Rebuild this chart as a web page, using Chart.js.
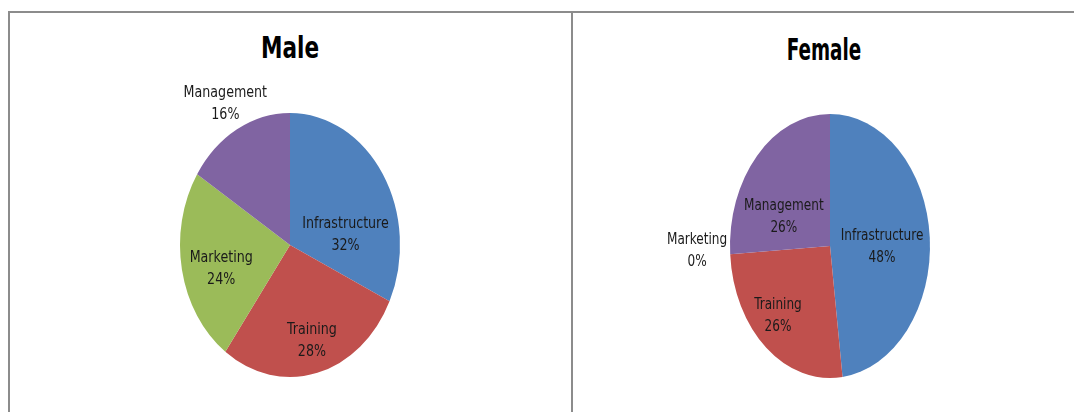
<!DOCTYPE html>
<html>
<head>
<meta charset="utf-8">
<title>Male / Female</title>
<script src="https://cdn.jsdelivr.net/npm/chart.js@4.4.1/dist/chart.umd.min.js"></script>
<style>
  body {
    margin: 0;
    background: #fff;
    width: 1074px;
    height: 412px;
    overflow: hidden;
    position: relative;
    font-family: 'Liberation Sans Narrow', 'DejaVu Sans Condensed', sans-serif;
  }
  .line { position: absolute; background: #8c8c8c; }
  .title {
    position: absolute;
    width: 240px;
    text-align: center;
    font-weight: bold;
    font-size: 30px;
    line-height: 30px;
    color: #000;
  }
  .box { position: absolute; top: 14px; height: 398px; }
  .box canvas { display: block; }
</style>
</head>
<body>
<div class="line" style="left:9px;top:11px;width:1065px;height:2px"></div>
<div class="line" style="left:8px;top:11px;width:2px;height:401px"></div>
<div class="line" style="left:571px;top:11px;width:2px;height:401px"></div>

<div class="title" style="left:170px;top:33px;transform:scaleX(0.8)">Male</div>
<div class="title" style="left:704px;top:35px;transform:scaleX(0.68)">Female</div>

<div class="box" style="left:11px;width:560px"><canvas id="maleChart" width="560" height="398"></canvas></div>
<div class="box" style="left:574px;width:500px"><canvas id="femaleChart" width="500" height="398"></canvas></div>

<script>
// Data
const categories = ['Infrastructure', 'Training', 'Marketing', 'Management'];
const maleValues = [32, 28, 24, 16];
const femaleValues = [48, 26, 0, 26];
const sliceColors = ['#4F81BD', '#C0504D', '#9BBB59', '#8064A2'];

const labelFont = '16px "Liberation Sans Narrow", "DejaVu Sans Condensed", sans-serif';

// Stretches the pie vertically (Excel-style oval) and writes the data labels
const ovalPie = {
    id: 'ovalPie',
    beforeDatasetsDraw(chart, args, opts) {
        const arc = chart.getDatasetMeta(0).data[0];
        const ctx = chart.ctx;
        ctx.save();
        ctx.translate(arc.x, arc.y);
        ctx.scale(1, opts.stretch);
        ctx.translate(-arc.x, -arc.y);
    },
    afterDatasetsDraw(chart, args, opts) {
        const ctx = chart.ctx;
        ctx.restore();

        const meta = chart.getDatasetMeta(0);
        const values = chart.data.datasets[0].data;
        const total = values.reduce((a, b) => a + b, 0);

        meta.data.forEach((arc, i) => {
            // [radius fraction, angle shift in degrees] per slice
            const [frac, shift] = opts.labelPos[i];
            const mid = (arc.startAngle + arc.endAngle) / 2 + shift * Math.PI / 180;
            const r = arc.outerRadius * frac;
            const x = arc.x + Math.cos(mid) * r;
            const y = arc.y + Math.sin(mid) * r * opts.stretch;

            ctx.save();
            ctx.translate(x, y);
            ctx.scale(opts.condense, 1); // narrow font look
            ctx.font = labelFont;
            ctx.fillStyle = '#1a1a1a';
            ctx.textAlign = 'center';
            ctx.textBaseline = 'middle';
            ctx.fillText(chart.data.labels[i], 0, -11);
            ctx.fillText(Math.round(values[i] / total * 100) + '%', 0, 11);
            ctx.restore();
        });
    }
};

function makePie(id, values, padding, stretch, labelPos, condense) {
    return new Chart(document.getElementById(id), {
        type: 'pie',
        data: {
            labels: categories,
            datasets: [{
                data: values,
                backgroundColor: sliceColors,
                borderWidth: 0,
                hoverOffset: 0,
                clip: false
            }]
        },
        options: {
            responsive: false,
            animation: false,
            events: [],
            layout: { padding: padding },
            plugins: {
                legend: { display: false },
                tooltip: { enabled: false },
                ovalPie: { stretch: stretch, labelPos: labelPos, condense: condense }
            }
        },
        plugins: [ovalPie]
    });
}

makePie('maleChart', maleValues,
    { top: 121, bottom: 57, left: 0, right: 2 }, 1.2,
    [[0.51, 24], [0.75, -1], [0.65, -5], [1.22, 0]], 0.88);

makePie('femaleChart', femaleValues,
    { top: 132, bottom: 66, left: 12, right: 0 }, 1.32,
    [[0.52, 4], [0.74, 5], [1.33, 2], [0.51, -18]], 0.84);
</script>
</body>
</html>
